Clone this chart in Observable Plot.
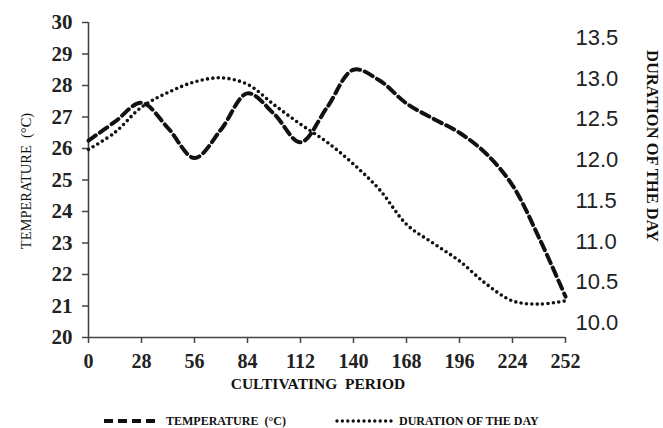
<!DOCTYPE html>
<html>
<head>
<meta charset="utf-8">
<script src="https://cdn.jsdelivr.net/npm/d3@7"></script>
<script src="https://cdn.jsdelivr.net/npm/@observablehq/plot@0.6"></script>
<style>
  html, body { margin: 0; padding: 0; background: #fff; }
  #wrap { width: 663px; }
  #chart svg { display: block; }
  #legend { position: relative; width: 663px; height: 26px; font-family: "Liberation Serif", "Times New Roman", serif; font-weight: bold; font-size: 12px; color: #111; }
  #legend svg { position: absolute; top: 0; }
  #legend span { position: absolute; top: 12px; line-height: 14px; white-space: pre; }
</style>
</head>
<body>
<div id="wrap">
  <div id="chart"></div>
  <div id="legend"></div>
</div>
<script>
// ---- data ----
const days = [0, 14, 28, 42, 56, 70, 84, 98, 112, 126, 140, 154, 168, 182, 196, 210, 224, 238, 252];
const temperature = [26.25, 26.85, 27.45, 26.65, 25.7, 26.6, 27.75, 27.1, 26.2, 27.3, 28.5, 28.15, 27.43, 26.95, 26.5, 25.84, 24.83, 23.17, 21.3];
const dayLength = [12.13, 12.34, 12.65, 12.83, 12.96, 13.01, 12.93, 12.68, 12.44, 12.22, 11.95, 11.63, 11.21, 10.98, 10.76, 10.48, 10.27, 10.23, 10.27];

const xTicks = [0, 28, 56, 84, 112, 140, 168, 196, 224, 252];
const tempTicks = [20, 21, 22, 23, 24, 25, 26, 27, 28, 29, 30];
const durTicks = [10.0, 10.5, 11.0, 11.5, 12.0, 12.5, 13.0, 13.5];

const xLabel = "CULTIVATING  PERIOD";
const yLabelLeft = "TEMPERATURE  (°C)";
const yLabelRight = "DURATION OF THE DAY";
const legendLabels = ["TEMPERATURE  (°C)", "DURATION OF THE DAY"];

// right axis extent matching the left axis [20, 30]
const tempDomain = [20, 30];
const durDomain = [9.82, 13.69];
const toT = v => tempDomain[0] + (v - durDomain[0]) / (durDomain[1] - durDomain[0]) * (tempDomain[1] - tempDomain[0]);
const fromT = t => durDomain[0] + (t - tempDomain[0]) / (tempDomain[1] - tempDomain[0]) * (durDomain[1] - durDomain[0]);

const tempData = days.map((d, i) => ({day: d, value: temperature[i]}));
const durData = days.map((d, i) => ({day: d, value: toT(dayLength[i])}));

const serif = "'Liberation Serif', 'Times New Roman', serif";
const sans = "'Liberation Sans', Arial, sans-serif";
const dashed = "9,5";
const dotted = "0,5.4";

const chart = Plot.plot({
  width: 663,
  height: 402,
  marginLeft: 88,
  marginRight: 98,
  marginTop: 22,
  marginBottom: 65,
  style: {fontFamily: serif, background: "#fff", color: "#222"},
  x: {domain: [0, 252]},
  y: {domain: tempDomain},
  marks: [
    Plot.axisY({ticks: tempTicks, tickSize: 6, tickPadding: 10, label: null, fontSize: 21, fontWeight: "bold", stroke: "#444", strokeWidth: 1.5, fontFamily: serif}),
    Plot.axisX({ticks: xTicks, tickSize: 6, tickPadding: 10, label: null, fontSize: 20, fontWeight: "bold", stroke: "#444", strokeWidth: 1.5, fontFamily: serif}),
    Plot.axisY(durTicks.map(toT), {anchor: "right", tickSize: 0, tickPadding: 10, label: null, tickFormat: t => fromT(t).toFixed(1), fontSize: 22, fontFamily: sans, fill: "#222", textAnchor: "start"}),
    Plot.ruleX([0], {stroke: "#444", strokeWidth: 1.6}),
    Plot.ruleY([20], {stroke: "#444", strokeWidth: 1.6}),
    Plot.line(durData, {x: "day", y: "value", curve: "catmull-rom", stroke: "#111", strokeWidth: 3.6, strokeDasharray: dotted, strokeLinecap: "round"}),
    Plot.line(tempData, {x: "day", y: "value", curve: "catmull-rom", stroke: "#111", strokeWidth: 4, strokeDasharray: dashed})
  ]
});
document.getElementById("chart").appendChild(chart);

// axis titles
const svg = d3.select(chart);
function title(text, x, y, rot, size, weight) {
  svg.append("text")
    .attr("transform", `translate(${x},${y}) rotate(${rot})`)
    .attr("text-anchor", "middle")
    .attr("dy", "0.35em")
    .attr("font-family", serif)
    .attr("font-size", size)
    .attr("font-weight", weight)
    .attr("fill", "#111")
    .style("white-space", "pre")
    .text(text);
}
title(yLabelLeft, 26, 181, -90, 14.5, "normal");
title(yLabelRight, 653, 146, 90, 16.5, "bold");
title(xLabel, 318, 384, 0, 15.5, "bold");

// legend
const legend = document.getElementById("legend");
const items = [
  {x1: 104, x2: 160, tx: 166, dash: dashed, w: 4, cap: "butt", label: legendLabels[0]},
  {x1: 337, x2: 393, tx: 399, dash: dotted, w: 3.4, cap: "round", label: legendLabels[1]}
];
items.forEach(it => {
  const s = d3.create("svg").attr("width", it.x2 - it.x1 + 4).attr("height", 26).style("left", (it.x1 - 2) + "px");
  s.append("line").attr("x1", 2).attr("x2", it.x2 - it.x1 + 2).attr("y1", 19).attr("y2", 19)
    .attr("stroke", "#111").attr("stroke-width", it.w).attr("stroke-dasharray", it.dash).attr("stroke-linecap", it.cap);
  legend.appendChild(s.node());
  const sp = document.createElement("span");
  sp.textContent = it.label;
  sp.style.left = it.tx + "px";
  legend.appendChild(sp);
});
</script>
</body>
</html>
